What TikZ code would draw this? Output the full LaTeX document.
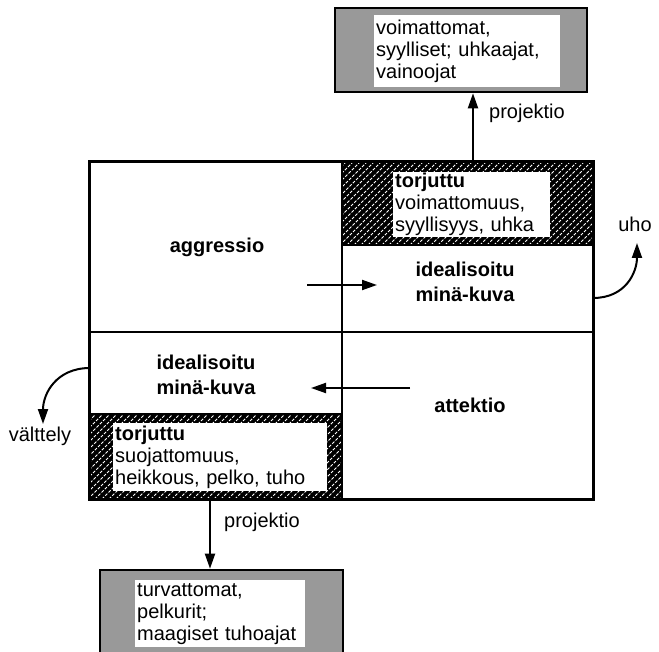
\documentclass[tikz,border=0pt]{standalone}
\usepackage{fontspec}
\setmainfont{Liberation Sans}
\usetikzlibrary{arrows.meta}

\tikzset{
  txt/.style={font=\fontsize{20}{22}\selectfont},
  cell/.style={draw, line width=2pt, inner sep=0pt, txt, align=center},
  hatched/.style={cell, fill=black, path picture={
      \foreach \k in {-100,-93,...,280}
        \draw[white, line width=0.9pt, dash pattern=on 3pt off 1.6pt]
          ([xshift=\k pt]path picture bounding box.south west) -- ++(120pt,120pt);
    }},
  whitebox/.style={fill=white, inner xsep=2pt, inner ysep=1pt, txt, align=left, anchor=north west},
  greybox/.style={draw, line width=2.6pt, fill=black!40, inner sep=0pt},
  bold/.style={txt, font=\fontsize{20}{24.5}\selectfont\bfseries, align=center},
  arr/.style={line width=2pt, -{Triangle[length=15pt,width=10pt]}},
}

\begin{document}
\begin{tikzpicture}[x=1pt, y=-1pt]
\useasboundingbox (0,0) rectangle (659,652);

% left column
\node[cell, minimum width=252, minimum height=170] (ag) at (216,247) {};
\node[cell, minimum width=252, minimum height=82] (li) at (216,373) {};
\node[hatched, minimum width=252, minimum height=85] (lh) at (216,456.5) {};

% right column
\node[hatched, minimum width=251, minimum height=83] (rh) at (467.5,203.5) {};
\node[cell, minimum width=251, minimum height=87] (ri) at (467.5,288.5) {};
\node[cell, minimum width=251, minimum height=167] (at) at (467.5,415.5) {};

% outer frame
\draw[line width=2.4pt] (ag.north west) rectangle (at.south east);

% cell texts
\node[bold] (tag) at (217,247) {aggressio};
\node[bold] (tli) at (206,375) {idealisoitu\\minä-kuva};
\node[bold] (tri) at (465,282) {idealisoitu\\minä-kuva};
\node[bold] (tat) at (470,405) {attektio};

% repressed contents
\node[whitebox, text width=153pt, minimum height=65pt] (rt) at (393,172)
  {\textbf{torjuttu}\\voimattomuus,\\syyllisyys, uhka};
\node[whitebox, text width=210pt, minimum height=68pt] (lt) at (113,423)
  {\textbf{torjuttu}\\suojattomuus,\\heikkous, pelko, tuho};

% projected images
\node[greybox, minimum width=252, minimum height=84] (tb) at (461,50) {};
\node[whitebox, text width=182pt, minimum height=72pt] (tbt) at (374,15)
  {voimattomat,\\syylliset; uhkaajat,\\vainoojat};
\node[greybox, minimum width=243, minimum height=100] (bb) at (221.5,620) {};
\node[whitebox, text width=166pt, minimum height=67pt] (bbt) at (135,580)
  {turvattomat,\\pelkurit;\\maagiset tuhoajat};

% projection arrows
\coordinate (pjt) at (473,0);
\coordinate (pjb) at (210,0);
\draw[arr] (rh.north -| pjt) -- (tb.south -| pjt);
\node[txt] (lpt) at (527,113) {projektio};
\draw[arr] (lh.south -| pjb) -- (bb.north -| pjb);
\node[txt] (lpb) at (262,522) {projektio};

% arrows between the cells
\coordinate (ha) at (307,285);
\coordinate (hb) at (377,285);
\draw[arr] (ha) -- (hb);
\coordinate (hc) at (410,388);
\coordinate (hd) at (311,388);
\draw[arr] (hc) -- (hd);

% defence outlets
\coordinate (uo) at (593,298);
\coordinate (ut) at (637,243);
\draw[arr] (uo) .. controls (626,298) and (637,272) .. (ut);
\node[txt] (luho) at (635,224) {uho};
\coordinate (vo) at (90,368);
\coordinate (vt) at (43,424);
\draw[arr] (vo) .. controls (56,368) and (43,394) .. (vt);
\node[txt] (lvt) at (40,436) {välttely};
\end{tikzpicture}
\end{document}
